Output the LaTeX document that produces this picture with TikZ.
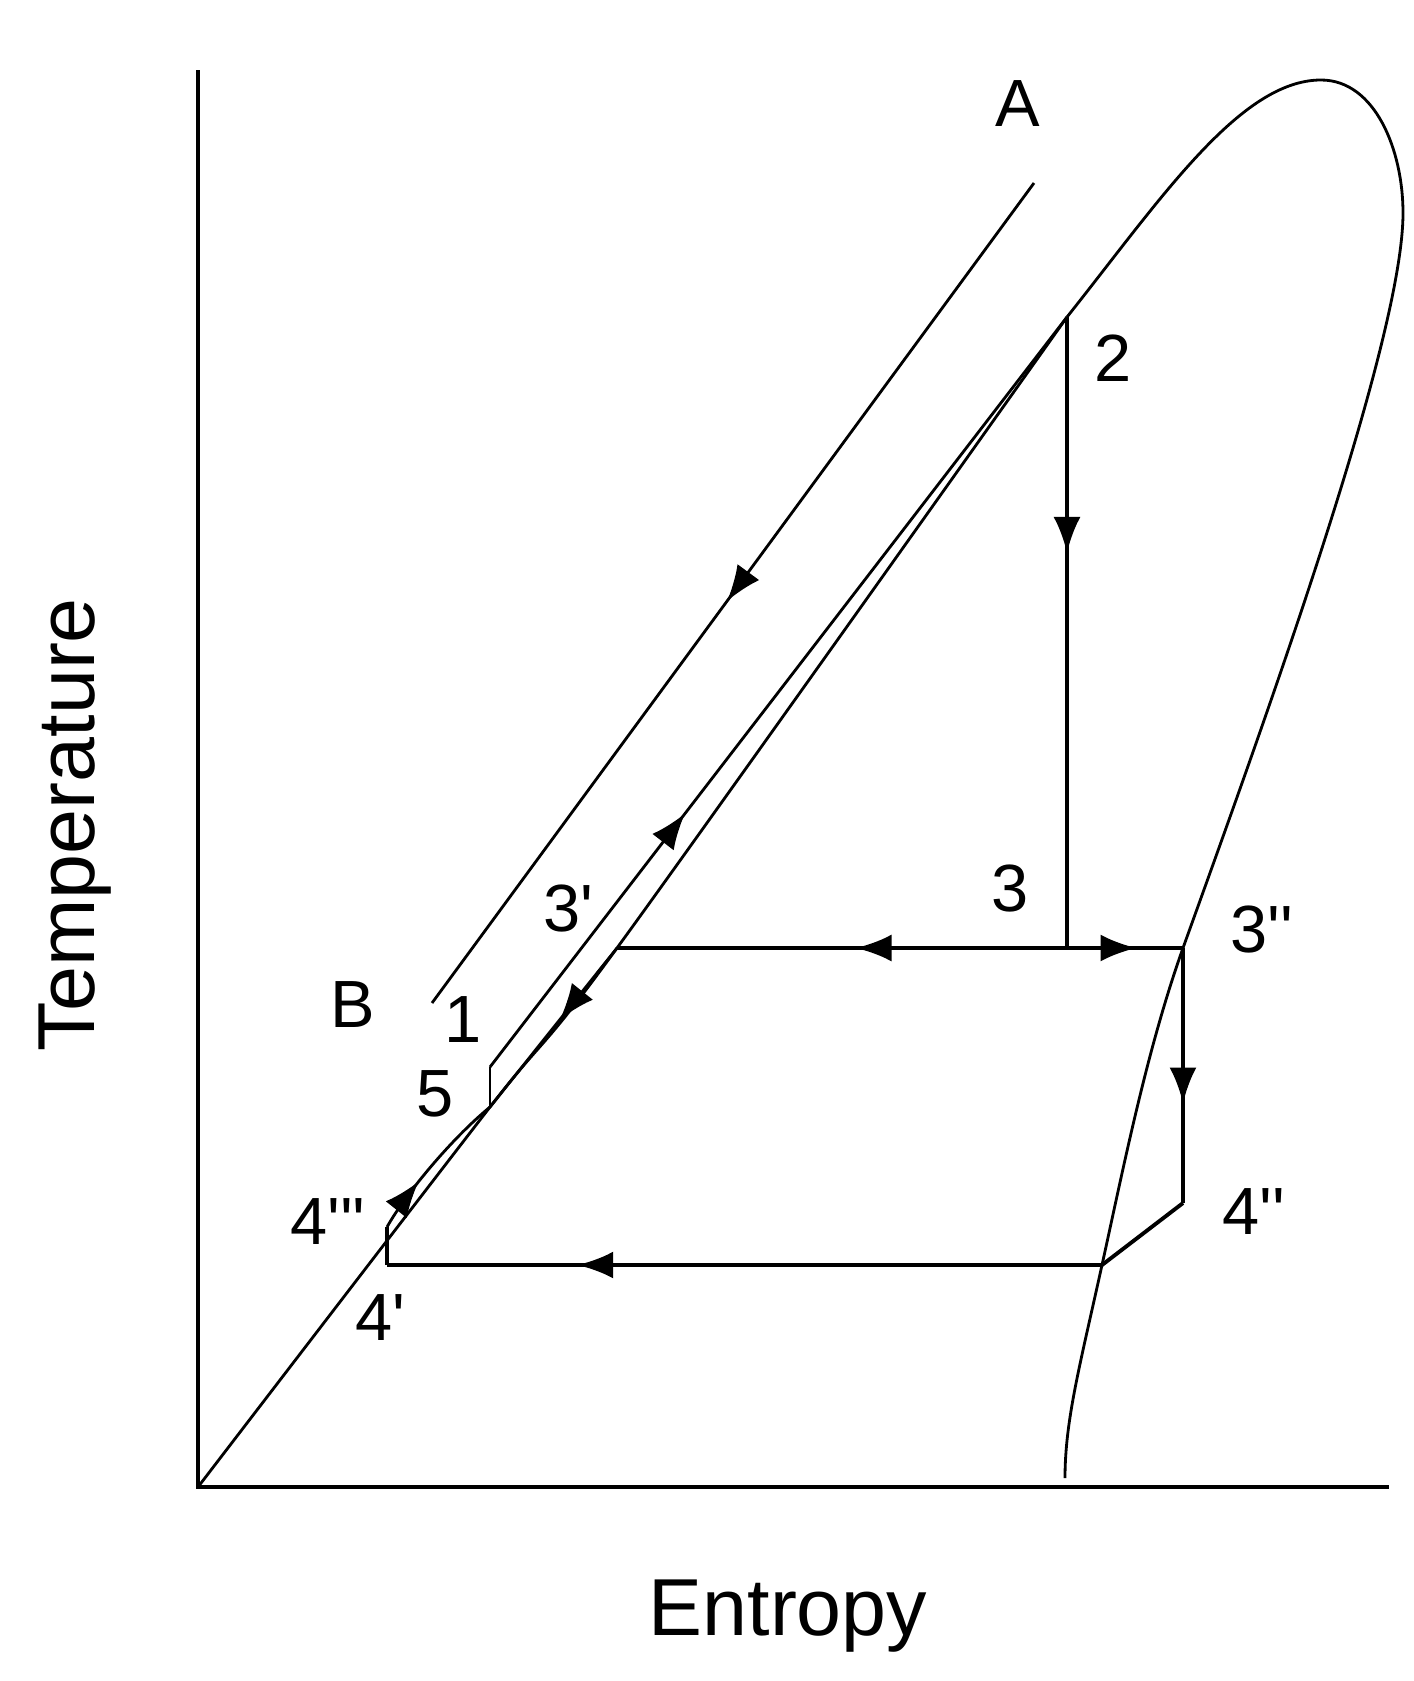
\documentclass[tikz,border=0pt]{standalone}
\usepackage{fontspec}
\setmainfont{Liberation Sans}
\usepackage{tikz}
\usetikzlibrary{arrows.meta,calc,decorations.markings}

\tikzset{
  dome/.style={line width=0.8pt},
  proc/.style={line width=1.1pt},
  axisline/.style={line width=1.3pt},
  flowtip/.style={postaction={decorate},decoration={markings,
      mark=at position #1 with {\arrow{Latex[length=3.6mm,width=2.7mm]}}}},
  lbl/.style={inner sep=0pt,font=\fontsize{19}{22}\selectfont},
  axlbl/.style={inner sep=0pt,font=\fontsize{23}{27}\selectfont}
}
\newcommand{\tick}{\textquotesingle}

\begin{document}
\begin{tikzpicture}[x=0.1mm,y=-0.1mm]
\useasboundingbox (0,0) rectangle (1414,1681);
\coordinate (O) at (198,1487);
\coordinate (Ty) at (198,70);
\coordinate (Sx) at (1389,1487);
\coordinate (p1) at (490,1067);
\coordinate (p2) at (1067,317);
\coordinate (p3) at (1067,948);
\coordinate (p3a) at (617,948);
\coordinate (p3b) at (1183,948);
\coordinate (p4a) at (387,1265);
\coordinate (p4b) at (1183,1203);
\coordinate (p4c) at (387,1227);
\coordinate (p5) at (490,1107);
\coordinate (q) at (1102,1265);
\coordinate (top) at (1321,80);
\coordinate (rim) at (1403,213);
\coordinate (foot) at (1065,1478);
\coordinate (lA) at (1034,183);
\coordinate (lB) at (432,1003);

\draw[axisline] (Ty) -- (O) -- (Sx);
\draw[dome] plot[smooth] coordinates {(O) (p5) (p3a) (p2)};
\draw[dome] (p2) .. controls (1160,200) and (1240,80) .. (top)
  .. controls (1375,80) and (1403,150) .. (rim)
  .. controls (1403,340) and (1265,720) .. (p3b)
  .. controls (1147,1049) and (1124,1165) .. (q)
  .. controls (1080,1365) and (1065,1420) .. (foot);

\draw[dome,flowtip=0.51] (lA) -- (lB);
\draw[proc,flowtip=0.374] (p2) -- (p3);
\draw[proc,flowtip=0.47] (p3) -- (p3a);
\draw[proc,flowtip=0.6] (p3) -- (p3b);
\draw[proc,flowtip=0.61] (p3b) -- (p4b);
\draw[proc] (p4b) -- (q);
\draw[proc,flowtip=0.734] (q) -- (p4a);
\draw[proc] (p4a) -- (p4c);
\draw[dome,flowtip=0.35] (p4c) .. controls (405,1195) and (450,1140) .. (p5);
\draw[dome] (p5) -- (p1);
\draw[dome,flowtip=0.338] (p1) -- (p2);
\draw[dome,flowtip=0.45] (p3a) -- (p5);

\node[lbl] (tA) at (1018,104) {A};
\node[lbl] (tB) at (353,1005) {B};
\node[lbl] (t1) at (463,1020) {1};
\node[lbl] (t2) at (1113,358) {2};
\node[lbl] (t3) at (1010,888) {3};
\node[lbl] (t3a) at (568,908) {3\tick};
\node[lbl] (t3b) at (1262,930) {3\tick\tick};
\node[lbl] (t4a) at (380,1318) {4\tick};
\node[lbl] (t4b) at (1254,1212) {4\tick\tick};
\node[lbl] (t4c) at (328,1222) {4\tick\tick\tick};
\node[lbl] (t5) at (435,1094) {5};
\node[axlbl] (tS) at (788,1616) {Entropy};
\node[axlbl,rotate=90] (tT) at (75,825) {Temperature};
\end{tikzpicture}
\end{document}
